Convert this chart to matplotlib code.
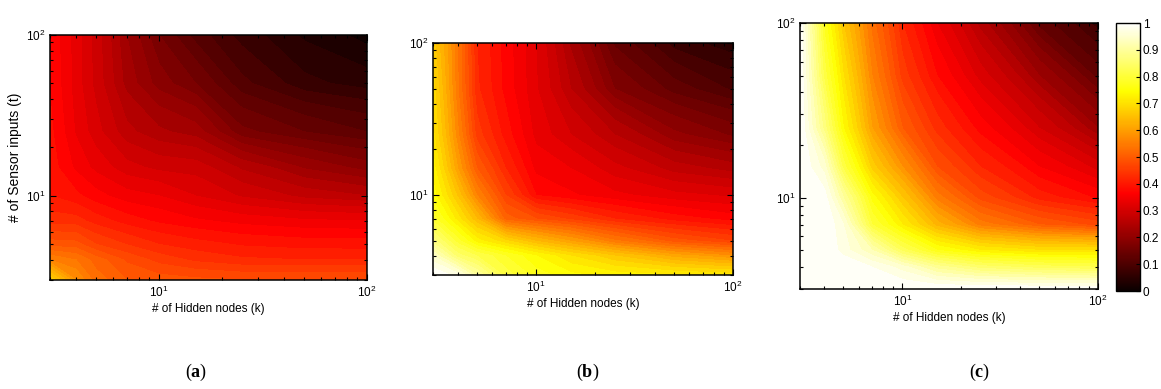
import numpy as np
import matplotlib
matplotlib.use("Agg")
import matplotlib.pyplot as plt
from matplotlib import cm, colors

plt.rcParams['font.family'] = 'Liberation Sans'
plt.rcParams['mathtext.fontset'] = 'custom'
plt.rcParams['mathtext.rm'] = 'Liberation Sans'
plt.rcParams['mathtext.bf'] = 'Liberation Serif:bold'

# grid of hidden nodes (k) and sensor inputs (t)
k_nodes = [3, 4, 5, 7, 10, 15, 25, 50, 100]
t_inputs = [3, 4, 5, 7, 10, 15, 25, 50, 100]

# rows: t ascending, columns: k ascending
vals_a = [
    [0.68, 0.58, 0.53, 0.50, 0.49, 0.485, 0.48, 0.48, 0.48],
    [0.56, 0.54, 0.51, 0.476, 0.452, 0.435, 0.424, 0.42, 0.42],
    [0.49, 0.487, 0.46, 0.439, 0.42, 0.408, 0.397, 0.391, 0.39],
    [0.43, 0.428, 0.41, 0.39, 0.375, 0.363, 0.352, 0.343, 0.34],
    [0.40, 0.385, 0.367, 0.348, 0.34, 0.32, 0.297, 0.273, 0.26],
    [0.39, 0.355, 0.333, 0.307, 0.294, 0.29, 0.256, 0.217, 0.19],
    [0.385, 0.337, 0.307, 0.266, 0.244, 0.23, 0.165, 0.14, 0.12],
    [0.378, 0.33, 0.292, 0.232, 0.19, 0.16, 0.105, 0.065, 0.05],
    [0.375, 0.33, 0.29, 0.22, 0.16, 0.11, 0.07, 0.035, 0.01],
]
vals_b = [
    [1.00, 0.97, 0.90, 0.81, 0.77, 0.745, 0.73, 0.72, 0.71],
    [0.94, 0.85, 0.82, 0.78, 0.74, 0.70, 0.66, 0.61, 0.58],
    [0.87, 0.79, 0.73, 0.685, 0.64, 0.60, 0.545, 0.49, 0.46],
    [0.79, 0.71, 0.64, 0.51, 0.48, 0.455, 0.42, 0.39, 0.37],
    [0.75, 0.655, 0.56, 0.46, 0.38, 0.363, 0.345, 0.326, 0.315],
    [0.73, 0.60, 0.50, 0.42, 0.353, 0.34, 0.306, 0.27, 0.25],
    [0.705, 0.565, 0.45, 0.39, 0.333, 0.30, 0.26, 0.205, 0.175],
    [0.69, 0.543, 0.424, 0.372, 0.322, 0.26, 0.18, 0.13, 0.095],
    [0.67, 0.54, 0.42, 0.37, 0.32, 0.235, 0.135, 0.07, 0.045],
]
vals_c = [
    [1.00, 1.00, 1.00, 1.00, 1.00, 1.00, 1.00, 1.00, 1.00],
    [1.00, 1.00, 1.00, 0.98, 0.95, 0.89, 0.85, 0.83, 0.82],
    [1.00, 1.00, 0.97, 0.92, 0.83, 0.76, 0.72, 0.70, 0.70],
    [1.00, 1.00, 0.96, 0.80, 0.72, 0.63, 0.55, 0.50, 0.47],
    [1.00, 0.99, 0.90, 0.75, 0.66, 0.55, 0.47, 0.41, 0.375],
    [1.00, 0.95, 0.81, 0.67, 0.58, 0.48, 0.42, 0.36, 0.31],
    [1.00, 0.87, 0.74, 0.60, 0.50, 0.43, 0.37, 0.30, 0.22],
    [1.00, 0.81, 0.70, 0.56, 0.45, 0.38, 0.31, 0.22, 0.13],
    [1.00, 0.77, 0.66, 0.53, 0.42, 0.34, 0.25, 0.13, 0.07],
]

panel_tags = ['a', 'b', 'c']
cbar_ticks = [0, 0.1, 0.2, 0.3, 0.4, 0.5, 0.6, 0.7, 0.8, 0.9, 1]
cbar_labels = ['0', '0.1', '0.2', '0.3', '0.4', '0.5', '0.6', '0.7', '0.8', '0.9', '1']

fig = plt.figure(figsize=(11.61, 3.89), dpi=100)

# axes boxes in figure fractions
boxes = [
    [0.0431, 0.2802, 0.2730, 0.6298],
    [0.3730, 0.2931, 0.2584, 0.5964],
    [0.6891, 0.2571, 0.2567, 0.6838],
]
tag_x = [0.169, 0.506, 0.844]

levels = np.linspace(0, 1, 51)
K, T = np.meshgrid(k_nodes, t_inputs)

for i, vals in enumerate([vals_a, vals_b, vals_c]):
    ax = fig.add_axes(boxes[i])
    ax.contourf(K, T, np.array(vals), levels=levels, cmap='hot', vmin=0, vmax=1)
    ax.set_xscale('log')
    ax.set_yscale('log')
    ax.set_xlim(3, 100)
    ax.set_ylim(3, 100)
    ax.tick_params(which='both', direction='in', top=True, right=True,
                   labelsize=8.5, width=0.8)
    ax.tick_params(which='major', length=4)
    ax.tick_params(which='minor', length=2)
    for s in ax.spines.values():
        s.set_linewidth(1.1)
    ax.set_xlabel('# of Hidden nodes (k)', fontsize=8.5, labelpad=2)
    if i == 0:
        ax.set_ylabel('# of Sensor inputs (t)', fontsize=10, labelpad=3)
    fig.text(tag_x[i], 0.03, '($\\mathbf{' + panel_tags[i] + '}$)',
             fontsize=13, family='Liberation Serif', ha='center')

cax = fig.add_axes([0.9612, 0.2519, 0.0207, 0.6889])
sm = cm.ScalarMappable(norm=colors.Normalize(0, 1), cmap='hot')
cb = fig.colorbar(sm, cax=cax, ticks=cbar_ticks)
cb.ax.set_yticklabels(cbar_labels)
cb.ax.tick_params(direction='in', length=3, labelsize=8.5, width=0.8, pad=2)
cb.outline.set_linewidth(1.0)

fig.savefig('out.png', dpi=100)
